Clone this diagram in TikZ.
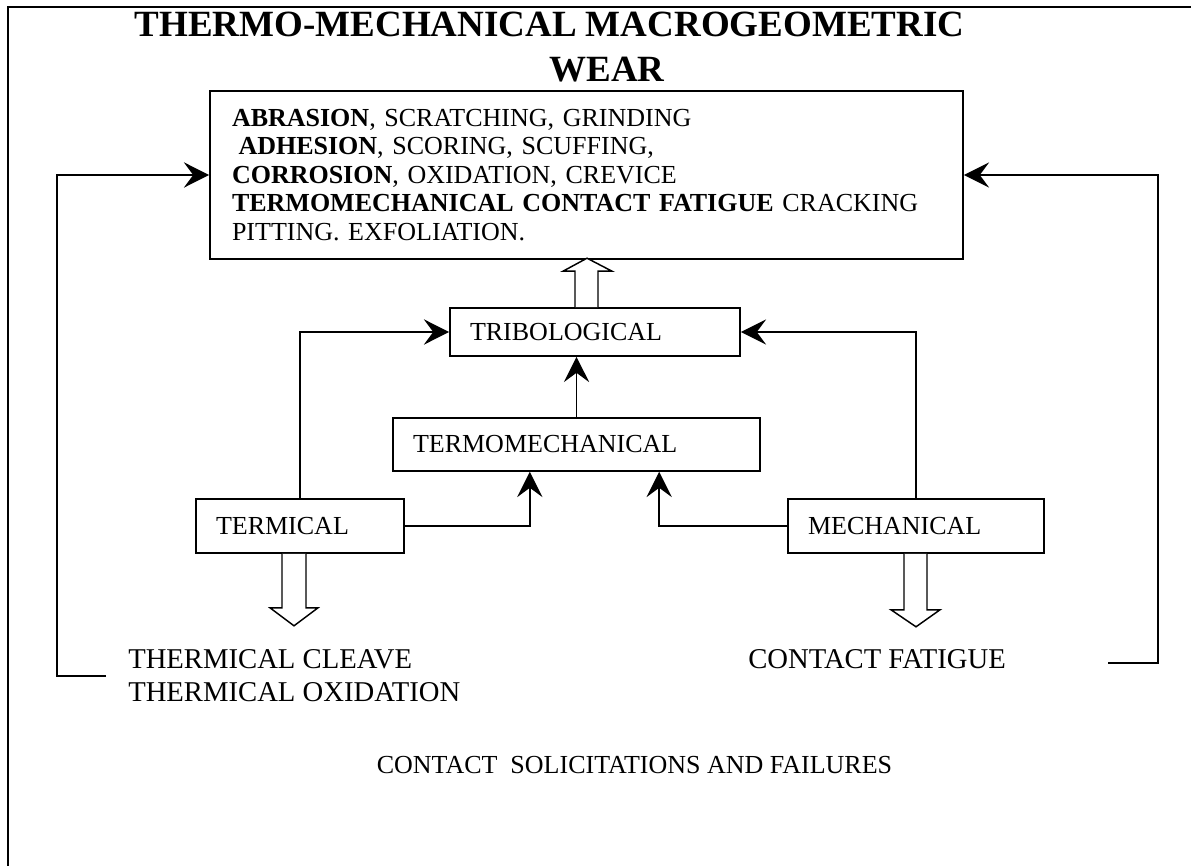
\documentclass[tikz,border=0pt]{standalone}
\usepackage{fontspec}
\setmainfont{Liberation Serif}
\usetikzlibrary{arrows.meta}
\tikzset{
  blk/.style={draw, line width=1.2pt, inner xsep=15pt, inner ysep=0pt, align=left, font=\fontsize{19.5}{23}\selectfont},
  conn/.style={line width=1.2pt, ->},
  fat/.style={line width=1.1pt, fill=white, line join=miter},
  outcome/.style={anchor=base west, inner sep=0pt, font=\fontsize{21.5}{25}\selectfont}
}
\begin{document}
\begin{tikzpicture}[line join=miter,>={Stealth[length=19pt,width=19pt,inset=7pt]},x=0.75pt,y=-0.75pt]
\useasboundingbox (0,0) rectangle (1191,866);
\draw [line width=1.4pt] (1191,7) -- (8,7) -- (8,866);
% title
\node[anchor=base, font=\fontsize{27.75}{33}\selectfont\bfseries] (title) at (549.5,37) {THERMO-MECHANICAL MACROGEOMETRIC};
\node[anchor=base, font=\fontsize{27.75}{33}\selectfont\bfseries] (title2) at (607,82) {WEAR};
% boxes
\node[blk, inner xsep=16.5pt, text width=531.75pt, minimum height=126pt, font=\fontsize{19.5}{21.4}\selectfont] (wear) at (586.5,175)
 {\textbf{ABRASION}, SCRATCHING, GRINDING\\
  \hspace*{0.25em}\textbf{ADHESION}, SCORING, SCUFFING,\\
  \textbf{CORROSION}, OXIDATION, CREVICE\\
  \textbf{TERMOMECHANICAL CONTACT FATIGUE} CRACKING\\
  PITTING. EXFOLIATION.};
\node[blk, text width=187.5pt, minimum height=36pt] (trib) at (595,332) {TRIBOLOGICAL};
\node[blk, text width=245.25pt, minimum height=39.75pt] (tm) at (576.5,444.5) {TERMOMECHANICAL};
\node[blk, text width=126pt, minimum height=40.5pt] (termical) at (300,526) {TERMICAL};
\node[blk, text width=162pt, minimum height=40.5pt] (mech) at (916,526) {MECHANICAL};
% outcomes
\node[outcome] (cleave) at (128,668) {THERMICAL CLEAVE};
\node[outcome] (oxid) at (128,701) {THERMICAL OXIDATION};
\node[outcome] (fatigue) at (748,668) {CONTACT FATIGUE};
\node[anchor=base, inner sep=0pt, font=\fontsize{19.5}{23}\selectfont] (caption) at (634.5,773) {CONTACT\ \ SOLICITATIONS AND FAILURES};
% connectors
\draw[conn] (termical.north) |- (trib.west);
\draw[conn] (mech.north) |- (trib.east);
\draw[conn] (tm.north) -- (tm.north |- trib.south);
\draw[conn] (termical.east) -| ([xshift=-35pt]tm.south);
\draw[conn] (mech.west) -| ([xshift=62pt]tm.south);
\coordinate (lfoot) at (106,676);
\coordinate (rfoot) at (1108,663);
\draw[conn] (lfoot) -- ++(-49,0) |- (wear.west);
\draw[conn] (rfoot) -- ++(50,0) |- (wear.east);
% hollow arrows
\begin{scope}[shift={(trib.north)}]
\draw[fat] (-20,0) -- (-20,-36) -- (-32,-36) -- (-8,-49) -- (17,-36) -- (3,-36) -- (3,0);
\end{scope}
\begin{scope}[shift={(termical.south)}]
\draw[fat] (-18,0) -- (-18,54) -- (-30,54) -- (-6,72) -- (18,54) -- (6,54) -- (6,0);
\end{scope}
\begin{scope}[shift={(mech.south)}]
\draw[fat] (-12,0) -- (-12,56) -- (-25,56) -- (0,73) -- (24,56) -- (11,56) -- (11,0);
\end{scope}
\end{tikzpicture}
\end{document}
